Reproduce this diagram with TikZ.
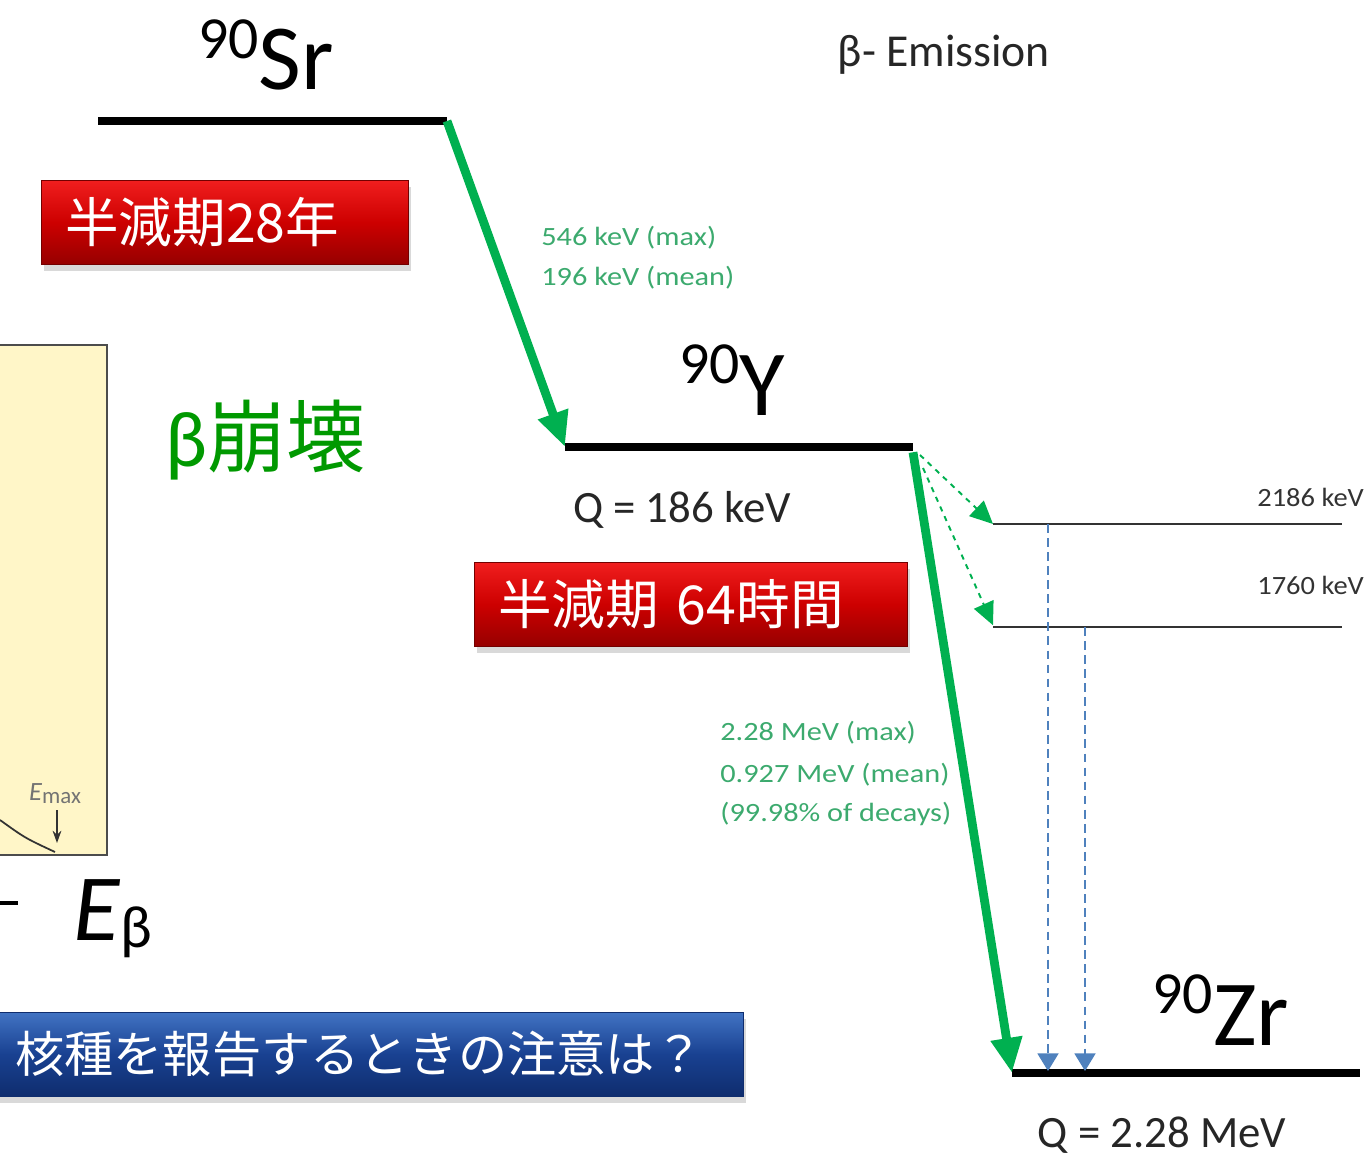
\documentclass[tikz,border=0pt]{standalone}
\usepackage{fontspec}
\setmainfont{Carlito}
\newfontfamily\cjk{Noto Sans CJK JP}
\usepackage{graphicx}
\usetikzlibrary{arrows.meta,shadows,positioning}

\definecolor{decaygreen}{RGB}{0,176,80}
\definecolor{lblgreen}{RGB}{60,170,110}
\definecolor{betagreen}{RGB}{0,153,0}
\definecolor{gammablue}{RGB}{79,129,189}
\definecolor{redtop}{RGB}{240,30,30}
\definecolor{redmid}{RGB}{205,0,0}
\definecolor{redbot}{RGB}{150,0,0}
\definecolor{bluetop}{RGB}{65,115,195}
\definecolor{bluemid}{RGB}{25,65,145}
\definecolor{bluebot}{RGB}{15,45,110}
\definecolor{panelyellow}{RGB}{255,246,200}

\newcommand{\nuclide}[2]{\raisebox{18pt}{\fontsize{34}{34}\selectfont #1}{\fontsize{53}{53}\selectfont #2}}
\newcommand{\stretched}[1]{\scalebox{1.15}[1]{#1}}

\begin{document}
\begin{tikzpicture}[x=0.02cm, y=-0.02cm, line cap=butt,
    level/.style={line width=4pt, black},
    sublevel/.style={line width=1.1pt, black!80},
    decay/.style={draw=decaygreen, line width=5pt, -{Triangle[width=17pt,length=20pt]}},
    branch/.style={draw=decaygreen, dashed, line width=1.1pt, -{Triangle[width=12pt,length=13pt]}},
    gamma/.style={draw=gammablue, dash pattern=on 5pt off 3pt, line width=0.7pt, -{Triangle[width=12pt,length=10pt]}},
    txt/.style={inner sep=0pt, anchor=base},
    glbl/.style={txt, anchor=base west, text=lblgreen, font=\fontsize{15}{18}\selectfont},
    shadowbox/.style={rectangle, anchor=north west, minimum height=1.68cm, align=left, text=white,
        drop shadow={shadow xshift=1.5pt, shadow yshift=-4pt, opacity=0.3}},
    redbox/.style={shadowbox, draw=red!45!black, top color=redtop, bottom color=redbot, middle color=redmid,
        inner xsep=0.48cm, font=\cjk\fontsize{30.5}{36}\selectfont},
    bluebox/.style={shadowbox, draw=bluebot, top color=bluetop, bottom color=bluebot, middle color=bluemid,
        inner xsep=0.4cm, font=\cjk\fontsize{28}{34}\selectfont}]
    \useasboundingbox (0,0) rectangle (1367,1159);

    % spectrum panel (cut at the left edge)
    \fill[panelyellow] (-5,345) rectangle (107,855);
    \draw[black!70, line width=1.6pt] (-5,345) rectangle (107,855);
    \draw[black!80, line width=1pt] (0,820) .. controls (25,838) .. (55,852);
    \node[txt] (emax) at (55,800) {\color{black!55}\fontsize{15}{15}\selectfont\textit{E}\raisebox{-2pt}{\fontsize{13}{13}\selectfont max}};
    \coordinate (emaxtop) at (57,810);
    \coordinate (emaxbot) at (57,843);
    \draw[black!80, line width=0.8pt, -{Stealth[width=5pt,length=7pt]}] (emaxtop) -- (emaxbot);
    \coordinate (axisL) at (0,903);
    \coordinate (axisR) at (18,903);
    \draw[line width=1.8pt] (axisL) -- (axisR);
    \node[txt, anchor=base west] (ebeta) at (73,940) {\fontsize{54}{54}\selectfont\textit{E}\raisebox{-4pt}{\fontsize{34}{34}\selectfont β}};

    % energy levels
    \coordinate (srL) at (98,121);   \coordinate (srR) at (447,121);
    \coordinate (yL) at (565,447);   \coordinate (yR) at (913,447);
    \coordinate (exAL) at (993,524); \coordinate (exAR) at (1342,524);
    \coordinate (exBL) at (993,627); \coordinate (exBR) at (1342,627);
    \coordinate (zrL) at (1012,1073); \coordinate (zrR) at (1360,1073);
    \draw[level] (srL) -- (srR);
    \draw[level] (yL) -- (yR);
    \draw[sublevel] (exAL) -- (exAR);
    \draw[sublevel] (exBL) -- (exBR);
    \draw[level] (zrL) -- (zrR);

    \node[txt] (sr) at (266,90) {\nuclide{90}{Sr}};
    \node[txt] (y90) at (732,415) {\nuclide{90}{Y}};
    \node[txt] (zr) at (1221,1045) {\nuclide{90}{Zr}};
    \node[txt] (title) at (944,67) {\color{black!85}\fontsize{26}{26}\selectfont β- Emission};
    \node[txt] (qy) at (682,522) {\color{black!85}\fontsize{25.5}{26}\selectfont Q = 186 keV};
    \node[txt] (qzr) at (1162,1147) {\color{black!85}\fontsize{25.5}{26}\selectfont Q = 2.28 MeV};
    \node[glbl, text=black!80] (exA) at (1257,506) {\scalebox{1.08}[1]{2186 keV}};
    \node[glbl, text=black!80] (exB) at (1257,594) {\scalebox{1.08}[1]{1760 keV}};

    % beta branches
    \node[glbl] (srmax) at (541,245) {\stretched{546 keV (max)}};
    \node[glbl] (srmean) at (541,285) {\stretched{196 keV (mean)}};
    \node[glbl] (ymax) at (720,740) {\stretched{2.28 MeV (max)}};
    \node[glbl] (ymean) at (720,782) {\stretched{0.927 MeV (mean)}};
    \node[glbl] (yfrac) at (720,821) {\stretched{(99.98\% of decays)}};
    \node[txt, anchor=base west] (betadecay) at (165,466) {\color{betagreen}\fontsize{45}{45}\selectfont β{\cjk 崩壊}};

    \draw[decay] (srR) -- (yL);
    \draw[decay] ([yshift=-3pt]yR) -- (zrL);
    \coordinate (brA) at (920,455);
    \coordinate (brB) at (923,468);
    \draw[branch] (brA) -- (exAL);
    \draw[branch] (brB) -- ([yshift=1pt]exBL);
    \coordinate (gAtop) at (1048,524); \coordinate (gAbot) at (1048,1071);
    \coordinate (gBtop) at (1085,627); \coordinate (gBbot) at (1085,1071);
    \draw[gamma] (gAtop) -- (gAbot);
    \draw[gamma] (gBtop) -- (gBbot);

    % half-life and question boxes
    \node[redbox, text width=6.38cm] (halfsr) at (41,180) {半減期28年};
    \node[redbox, text width=7.70cm] (halfy) at (474,562) {半減期 64時間};
    \node[bluebox, text width=14.16cm] (question) at (-5,1012) {核種を報告するときの注意は？};
\end{tikzpicture}
\end{document}
